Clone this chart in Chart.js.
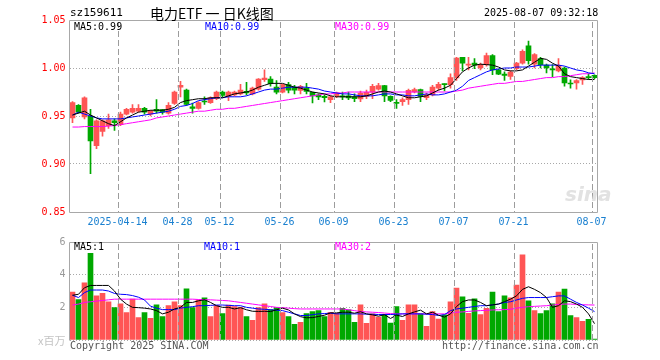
<!DOCTYPE html>
<html>
<head>
<meta charset="utf-8">
<script src="https://cdn.jsdelivr.net/npm/chart.js"></script>
<style>
  body { margin: 0; background: #fff; width: 660px; height: 360px; overflow: hidden; position: relative; }
  canvas { position: absolute; left: 0; }
  .t { position: absolute; font-family: "DejaVu Sans Mono", monospace; font-size: 10px; line-height: 12px; white-space: nowrap; z-index: 2; }
</style>
</head>
<body>
<canvas id="kline" width="660" height="232" style="top:0"></canvas>
<canvas id="vol" width="660" height="128" style="top:232px"></canvas>

<div class="t" style="left:70px;top:7px;font-size:11px">sz159611</div>
<div class="t" style="left:150px;top:4px;font-family:'Noto Sans CJK SC';font-size:14px;line-height:18px">电力ETF 一 日K线图</div>
<div class="t" style="left:484px;top:7px">2025-08-07 09:32:18</div>

<div class="t" style="left:74px;top:21px;color:#000">MA5:0.99</div>
<div class="t" style="left:205px;top:21px;color:#0000ff">MA10:0.99</div>
<div class="t" style="left:335px;top:21px;color:#ff00ff">MA30:0.99</div>
<div class="t" style="left:565px;top:183px;font-family:'DejaVu Sans';font-size:20px;line-height:22px;font-weight:bold;font-style:italic;color:#e2e2e2">sina</div>

<div class="t" style="left:74px;top:241px;color:#000">MA5:1</div>
<div class="t" style="left:204px;top:241px;color:#0000ff">MA10:1</div>
<div class="t" style="left:335px;top:241px;color:#ff00ff">MA30:2</div>
<div class="t" style="left:38px;top:334px;font-family:'Noto Sans CJK SC';font-size:11px;line-height:13px;color:#c4c4c4">x百万</div>
<div class="t" style="left:70px;top:340px;color:#555">Copyright 2025 SINA.COM</div>
<div class="t" style="left:442px;top:340px;color:#555">http://finance.sina.com.cn</div>

<script>
// trading days 2025-04-01 .. 2025-08-07
var dates = ['04-01','04-02','04-03','04-07','04-08','04-09','04-10','04-11','04-14','04-15',
  '04-16','04-17','04-18','04-21','04-22','04-23','04-24','04-25','04-28','04-29',
  '04-30','05-06','05-07','05-08','05-09','05-12','05-13','05-14','05-15','05-16',
  '05-19','05-20','05-21','05-22','05-23','05-26','05-27','05-28','05-29','05-30',
  '06-03','06-04','06-05','06-06','06-09','06-10','06-11','06-12','06-13','06-16',
  '06-17','06-18','06-19','06-20','06-23','06-24','06-25','06-26','06-27','06-30',
  '07-01','07-02','07-03','07-04','07-07','07-08','07-09','07-10','07-11','07-14',
  '07-15','07-16','07-17','07-18','07-21','07-22','07-23','07-24','07-25','07-28',
  '07-29','07-30','07-31','08-01','08-04','08-05','08-06','08-07'];
var tickLabels = ['2025-04-14','04-28','05-12','05-26','06-09','06-23','07-07','07-21','08-07'];

var opens = [0.948,0.961,0.949,0.950,0.919,0.934,0.940,0.945,0.941,0.952,
  0.954,0.955,0.958,0.952,0.957,0.9566,0.953,0.963,0.980,0.977,
  0.9595,0.958,0.9656,0.964,0.968,0.975,0.9705,0.972,0.973,0.9757,
  0.973,0.978,0.9878,0.9885,0.980,0.9747,0.9826,0.980,0.9767,0.979,
  0.9747,0.972,0.9705,0.967,0.9705,0.971,0.971,0.970,0.9677,0.9705,
  0.9747,0.978,0.9816,0.9705,0.9642,0.965,0.967,0.975,0.9774,0.969,
  0.972,0.979,0.9833,0.9826,0.9896,1.011,1.003,1.005,1.000,1.0035,
  1.013,0.998,0.9937,0.9913,0.9993,1.005,1.023,1.004,1.0097,1.003,
  0.999,0.997,1.000,0.9844,0.9844,0.9875,0.991,0.9924];
var highs = [0.965,0.962,0.970,0.957,0.946,0.946,0.952,0.947,0.954,0.958,
  0.962,0.962,0.959,0.956,0.967,0.957,0.964,0.976,0.986,0.978,
  0.9635,0.965,0.970,0.970,0.976,0.976,0.976,0.976,0.983,0.985,
  0.980,0.989,0.998,0.991,0.987,0.983,0.985,0.982,0.982,0.984,
  0.975,0.973,0.972,0.971,0.975,0.975,0.975,0.973,0.976,0.977,
  0.983,0.984,0.982,0.971,0.967,0.969,0.978,0.979,0.978,0.974,
  0.982,0.985,0.9835,0.994,1.011,1.011,1.011,1.0097,1.005,1.0156,
  1.014,0.999,0.996,0.997,1.006,1.019,1.028,1.015,1.011,1.004,
  1.0035,1.0097,1.001,0.9878,0.988,0.991,0.994,0.993];
var lows = [0.943,0.953,0.947,0.890,0.916,0.929,0.937,0.935,0.940,0.951,
  0.953,0.954,0.952,0.950,0.953,0.952,0.952,0.962,0.970,0.961,
  0.953,0.957,0.962,0.963,0.967,0.970,0.966,0.971,0.972,0.972,
  0.972,0.977,0.986,0.981,0.973,0.974,0.974,0.973,0.973,0.973,
  0.9635,0.967,0.9646,0.964,0.969,0.967,0.967,0.965,0.965,0.968,
  0.968,0.977,0.965,0.965,0.958,0.961,0.962,0.974,0.965,0.967,
  0.971,0.977,0.976,0.979,0.987,0.997,0.998,0.9993,0.998,1.002,
  0.993,0.993,0.987,0.988,0.998,1.004,1.004,1.000,1.000,0.995,
  0.991,0.996,0.981,0.979,0.978,0.983,0.988,0.989];
var closes = [0.964,0.954,0.969,0.924,0.945,0.945,0.946,0.943,0.952,0.957,
  0.958,0.958,0.954,0.9555,0.955,0.954,0.961,0.975,0.982,0.962,
  0.958,0.964,0.9646,0.969,0.975,0.9715,0.975,0.975,0.977,0.974,
  0.979,0.9885,0.9896,0.9837,0.9747,0.9826,0.977,0.977,0.981,0.9757,
  0.971,0.970,0.969,0.970,0.974,0.9698,0.9688,0.968,0.974,0.9747,
  0.981,0.9816,0.971,0.9663,0.963,0.967,0.9767,0.9774,0.9705,0.972,
  0.980,0.983,0.9826,0.990,1.0104,1.005,1.004,1.003,1.0035,1.013,
  0.998,0.9937,0.9924,0.9958,1.005,1.0174,1.0076,1.014,1.0035,1.000,
  0.998,1.0028,0.9844,0.9833,0.987,0.990,0.990,0.990];

var ma5 = [0.951,0.953,0.955,0.951,0.948,0.945,0.942,0.940,0.944,0.948,
  0.951,0.954,0.955,0.956,0.956,0.956,0.957,0.959,0.964,0.966,
  0.967,0.968,0.968,0.969,0.969,0.969,0.971,0.973,0.974,0.975,
  0.977,0.980,0.982,0.984,0.984,0.984,0.982,0.980,0.979,0.977,
  0.975,0.974,0.973,0.971,0.970,0.970,0.970,0.970,0.970,0.971,
  0.973,0.975,0.976,0.975,0.973,0.971,0.969,0.969,0.970,0.971,
  0.974,0.977,0.979,0.982,0.989,0.996,1.000,1.003,1.004,1.0035,
  1.003,1.001,0.998,0.997,0.997,0.998,1.002,1.006,1.010,1.009,
  1.005,1.002,0.994,0.991,0.990,0.989,0.988,0.988];
var ma10 = [0.951,0.954,0.952,0.950,0.948,0.947,0.947,0.947,0.947,0.948,
  0.949,0.950,0.951,0.952,0.953,0.954,0.955,0.957,0.960,0.961,
  0.963,0.966,0.967,0.968,0.969,0.969,0.970,0.970,0.970,0.971,
  0.973,0.975,0.977,0.978,0.978,0.979,0.980,0.980,0.980,0.980,
  0.979,0.978,0.976,0.975,0.974,0.973,0.973,0.972,0.971,0.971,
  0.971,0.972,0.973,0.973,0.972,0.972,0.971,0.971,0.972,0.973,
  0.972,0.972,0.973,0.975,0.977,0.981,0.987,0.990,0.993,0.996,
  0.998,0.999,1.000,1.000,1.001,1.001,1.001,1.002,1.003,1.003,
  1.003,1.003,1.002,1.000,0.998,0.997,0.995,0.994];
var ma30 = [0.9385,0.9385,0.939,0.939,0.939,0.939,0.9395,0.940,0.941,0.942,
  0.943,0.944,0.945,0.946,0.948,0.949,0.950,0.951,0.952,0.953,
  0.954,0.955,0.955,0.956,0.957,0.957,0.958,0.958,0.959,0.960,
  0.961,0.962,0.963,0.964,0.965,0.966,0.967,0.968,0.969,0.970,
  0.971,0.972,0.973,0.973,0.974,0.974,0.975,0.975,0.975,0.975,
  0.975,0.975,0.975,0.975,0.975,0.975,0.975,0.975,0.975,0.975,
  0.975,0.975,0.975,0.975,0.976,0.977,0.979,0.980,0.981,0.982,
  0.983,0.984,0.984,0.985,0.986,0.986,0.987,0.988,0.989,0.990,
  0.990,0.991,0.991,0.992,0.993,0.994,0.994,0.995];

// 成交量 (百万)
var volumes = [2.94,2.48,3.5,5.3,2.7,2.86,2.34,1.98,2.22,1.68,
  2.5,1.38,1.68,1.32,2.16,1.44,2.1,2.34,2.1,3.14,
  1.98,2.46,2.58,1.44,2.1,1.62,2.14,2.04,1.98,1.44,
  1.2,1.98,2.22,1.86,1.98,1.68,1.44,0.96,1.08,1.62,
  1.74,1.8,1.44,1.7,1.64,1.94,1.84,1.08,2.16,1.02,
  1.6,1.4,1.54,1.04,2.04,1.2,2.16,2.16,1.6,0.84,
  1.74,1.28,1.54,2.34,3.18,2.64,1.64,2.52,1.56,1.94,
  2.94,1.74,2.7,2.58,3.36,5.22,2.4,1.8,1.62,1.8,
  2.22,2.94,3.12,1.5,1.38,1.14,1.26,0.06];
var vma5 = [2.74,2.8,3.2,3.34,3.34,3.34,3.34,3.0,2.5,2.2,
  2.0,1.98,1.95,1.9,1.8,1.6,1.7,1.9,2.0,2.3,
  2.3,2.4,2.46,2.3,2.1,2.0,2.0,1.9,1.98,1.85,
  1.76,1.75,1.76,1.74,1.85,1.95,1.84,1.6,1.43,1.36,
  1.37,1.44,1.52,1.66,1.66,1.7,1.7,1.64,1.73,1.6,
  1.54,1.46,1.55,1.32,1.52,1.44,1.6,1.72,1.83,1.6,
  1.7,1.52,1.4,1.6,2.05,2.35,2.45,2.45,2.3,2.1,
  2.15,2.2,2.35,2.5,2.7,3.1,3.26,3.1,2.9,2.6,
  2.0,2.1,2.4,2.35,2.2,2.0,1.6,1.0];
var vma10 = [2.74,2.6,2.9,3.06,3.06,3.06,3.0,2.85,2.8,2.78,
  2.72,2.62,2.45,2.07,1.95,1.86,1.86,1.86,1.95,2.0,
  2.04,2.1,2.1,2.12,2.14,2.14,2.12,2.1,2.1,2.0,
  1.95,1.9,1.88,1.85,1.82,1.8,1.7,1.6,1.5,1.5,
  1.55,1.6,1.62,1.64,1.6,1.6,1.6,1.6,1.6,1.58,
  1.58,1.56,1.56,1.56,1.58,1.6,1.6,1.6,1.6,1.58,
  1.56,1.5,1.55,1.8,1.9,1.95,2.0,2.05,2.1,2.1,
  2.15,2.2,2.3,2.34,2.45,2.55,2.6,2.6,2.6,2.6,
  2.65,2.7,2.7,2.5,2.3,2.14,1.95,1.74];
var vma30 = [2.14,2.2,2.3,2.34,2.38,2.42,2.46,2.5,2.5,2.5,
  2.5,2.5,2.5,2.5,2.5,2.5,2.5,2.5,2.5,2.5,
  2.5,2.48,2.47,2.46,2.44,2.42,2.4,2.35,2.3,2.25,
  2.2,2.15,2.1,2.05,2.0,1.98,1.95,1.92,1.9,1.9,
  1.9,1.9,1.9,1.9,1.9,1.9,1.85,1.8,1.74,1.72,
  1.7,1.68,1.65,1.62,1.6,1.6,1.6,1.6,1.6,1.6,
  1.6,1.6,1.6,1.65,1.7,1.72,1.75,1.78,1.8,1.82,
  1.84,1.85,1.86,1.88,1.95,2.0,2.04,2.06,2.08,2.1,
  2.14,2.18,2.2,2.2,2.18,2.16,2.15,2.14];

var RED = '#ff5555', GREEN = '#00a800', GRID = '#a8a8a8', VGRID = '#9c9c9c', BOX = '#a8a8a8';
var monoFont = { family: 'DejaVu Sans Mono', size: 10 };

function upColor(i) { return closes[i] >= opens[i] ? RED : GREEN; }
function tickText(i) {
  var d = dates[i];
  if (!d) return '';
  return tickLabels.find(function (t) { return t.slice(-5) === d; }) || '';
}

function maLine(data, color) {
  return { type: 'line', data: data, borderColor: color, borderWidth: 1, pointRadius: 0, tension: 0, fill: false };
}

// lưới dọc nét đứt tại các ngày có nhãn + khung viền vùng vẽ
var framePlugin = {
  id: 'frame',
  afterDatasetsDraw: function (chart, args, opts) {
    var x = chart.scales.x, a = chart.chartArea, ctx = chart.ctx;
    var half = (x.getPixelForTick(1) - x.getPixelForTick(0)) / 2;
    ctx.save();
    ctx.fillStyle = VGRID;
    dates.forEach(function (d, i) {
      if (!tickText(i)) return;
      var px = Math.round(x.getPixelForTick(i) - half);
      for (var y = Math.floor(a.top) + 2; y < a.bottom; y += 9) {
        ctx.fillRect(px, y, 1, Math.min(6, a.bottom - y));
      }
    });
    var l = Math.floor(a.left) + 0.5, r = Math.floor(a.right) + 0.5;
    var t = Math.floor(a.top) + 0.5, b = Math.floor(a.bottom) + 0.5;
    ctx.strokeStyle = BOX;
    ctx.lineWidth = 1;
    ctx.beginPath();
    if (opts.bottom) {
      ctx.rect(l, t, r - l, b - t);
    } else {
      ctx.moveTo(l, b); ctx.lineTo(l, t); ctx.lineTo(r, t); ctx.lineTo(r, b);
    }
    ctx.stroke();
    ctx.restore();
  }
};

new Chart(document.getElementById('kline'), {
  type: 'bar',
  data: {
    labels: dates,
    datasets: [
      maLine(ma5, '#000000'),
      maLine(ma10, '#0000ff'),
      maLine(ma30, '#ff00ff'),
      {
        label: 'body',
        data: dates.map(function (d, i) { return [Math.min(opens[i], closes[i]), Math.max(opens[i], closes[i])]; }),
        backgroundColor: function (ctx) { return upColor(ctx.dataIndex); },
        barThickness: 5, minBarLength: 1, grouped: false
      },
      {
        label: 'wick',
        data: dates.map(function (d, i) { return [lows[i], highs[i]]; }),
        backgroundColor: function (ctx) { return upColor(ctx.dataIndex); },
        barThickness: 1, grouped: false
      }
    ]
  },
  options: {
    responsive: false, animation: false, events: [],
    layout: { padding: { top: 20, right: 62.5, left: 0, bottom: 0 } },
    plugins: { legend: { display: false }, tooltip: { enabled: false }, frame: { bottom: true } },
    scales: {
      x: {
        offset: true,
        grid: { display: false, drawTicks: false },
        border: { display: false },
        ticks: { autoSkip: false, maxRotation: 0, labelOffset: -3, padding: 4, color: '#1a80d0', font: monoFont,
          callback: function (v, i) { return tickText(i); } },
        afterFit: function (s) { s.height = 20; }
      },
      y: {
        min: 0.85, max: 1.05,
        ticks: { stepSize: 0.05, padding: 4, color: '#ff0000', font: monoFont,
          callback: function (v) { return v.toFixed(2); } },
        grid: { color: GRID, drawTicks: false },
        border: { display: false, dash: [1, 2] },
        afterFit: function (s) { s.width = 69.5; }
      }
    }
  },
  plugins: [framePlugin]
});

new Chart(document.getElementById('vol'), {
  type: 'bar',
  data: {
    labels: dates,
    datasets: [
      maLine(vma5, '#000000'),
      maLine(vma10, '#0000ff'),
      maLine(vma30, '#ff00ff'),
      {
        label: 'volume',
        data: volumes,
        backgroundColor: function (ctx) { return upColor(ctx.dataIndex); },
        barThickness: 5, grouped: false
      }
    ]
  },
  options: {
    responsive: false, animation: false, events: [],
    layout: { padding: { top: 9, right: 62.5, left: 0, bottom: 20 } },
    plugins: { legend: { display: false }, tooltip: { enabled: false }, frame: { bottom: false } },
    scales: {
      x: {
        offset: true,
        grid: { display: false, drawTicks: false },
        border: { display: false },
        ticks: { display: false },
        afterFit: function (s) { s.height = 0; }
      },
      y: {
        min: 0, max: 6,
        ticks: { stepSize: 2, padding: 4, color: '#999999', font: monoFont,
          callback: function (v) { return v === 0 ? '' : String(v); } },
        grid: { color: GRID, drawTicks: false },
        border: { display: false, dash: [1, 2] },
        afterFit: function (s) { s.width = 69.5; }
      }
    }
  },
  plugins: [framePlugin]
});
</script>
</body>
</html>
